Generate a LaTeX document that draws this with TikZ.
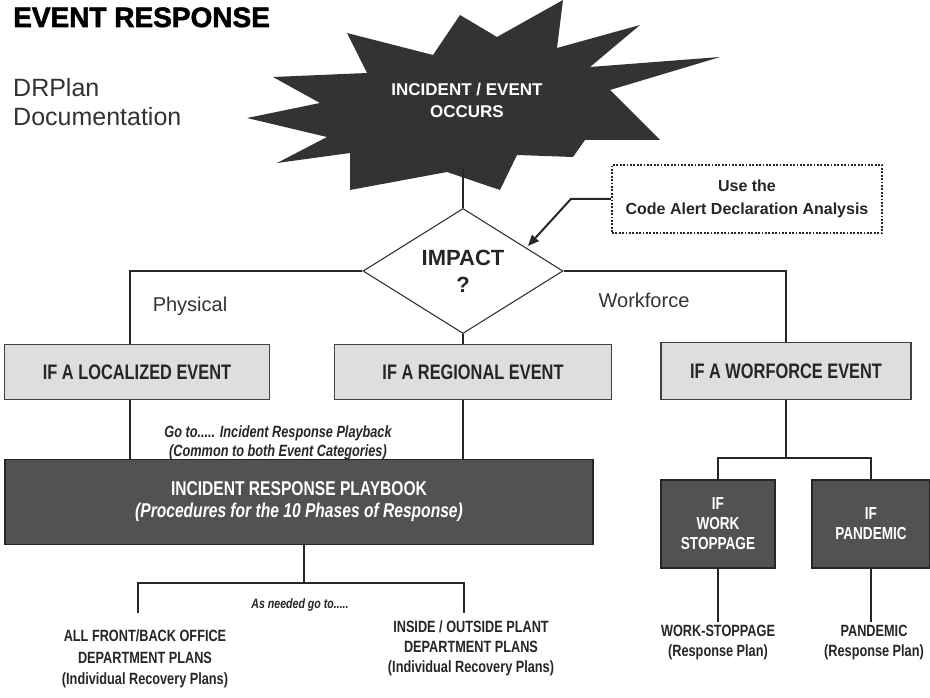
\documentclass[tikz,border=0pt]{standalone}
\usepackage{fontspec}
\setmainfont{Liberation Sans}
\newfontfamily\narrowfont[FakeStretch=0.78]{Liberation Sans}
\newfontfamily\heavyfont[FakeBold=2]{Liberation Sans Bold}
\usetikzlibrary{shapes.geometric,arrows.meta,calc}
\tikzset{
  link/.style={line width=2.2pt, draw=black!85},
  lightbox/.style={draw=black!75, fill=black!13, line width=1.6pt, inner sep=0pt,
    font=\narrowfont\bfseries\fontsize{21}{24}\selectfont, text=black!85},
  darkbox/.style={draw=black!85, fill=black!68, line width=1.6pt, inner sep=0pt,
    text=white, align=center},
  plaintext/.style={align=center, text=black!85, inner sep=2pt},
  branchlabel/.style={font=\fontsize{20}{24}\selectfont, text=black!80},
}
\begin{document}
\begin{tikzpicture}[x=1pt,y=-1pt]
\useasboundingbox[fill=white] (0,0) rectangle (930,698);

% titles
\node[anchor=base west, inner sep=0pt, font=\heavyfont\fontsize{28}{30}\selectfont] (title) at (13,27) {EVENT RESPONSE};
\node[anchor=base west, inner sep=0pt, font=\fontsize{25}{28}\selectfont, text=black!80] (drplan) at (13,97) {DRPlan};
\node[anchor=base west, inner sep=0pt, font=\fontsize{25}{28}\selectfont, text=black!80] (docu) at (13,126) {Documentation};

% starburst
\fill[black!80] (563,0) -- (557,48) -- (640,25) -- (590,67) -- (720,57) -- (610,90)
  -- (660,140) -- (585,140) -- (573,157) -- (517,155) -- (500,190) -- (447,172)
  -- (350,190) -- (350,153) -- (277,163) -- (327,137) -- (247,118) -- (320,103)
  -- (273,77) -- (367,73) -- (347,33) -- (433,55) -- (460,15) -- (497,37) -- cycle;
\node[align=center, text=white, font=\bfseries\fontsize{17}{22}\selectfont] (star) at (467,100) {INCIDENT / EVENT\\OCCURS};
\coordinate (starbot) at (463,168);

% impact diamond
\node[diamond, draw=black!80, line width=1.1pt, minimum width=200pt, minimum height=98pt, inner sep=0pt,
  align=center, text=black!85, font=\bfseries\fontsize{22}{27}\selectfont] (impact) at (463,271) {IMPACT\\?};

% dotted note
\node[draw=black!85, line width=2.2pt, dash pattern={on 1.8pt off 1.6pt}, minimum width=270pt, minimum height=68pt,
  align=center, text=black!85, font=\bfseries\fontsize{16}{23}\selectfont] (note) at (747,199)
  {Use the\\Code Alert Declaration Analysis};
\coordinate (atip) at (528,246);
\draw[link, line width=2pt, -{Triangle[length=11pt,width=9pt]}] (note.west) -- ++(-40,0) -- (atip);

% branch labels
\node[branchlabel] (phys) at (190,306) {Physical};
\node[branchlabel] (work) at (644,300) {Workforce};

% event boxes
\node[lightbox, minimum width=265pt, minimum height=55pt] (loc) at (137,372) {IF A LOCALIZED EVENT};
\node[lightbox, minimum width=277pt, minimum height=55pt] (reg) at (473,372) {IF A REGIONAL EVENT};
\node[lightbox, minimum width=250pt, minimum height=57pt] (wf) at (786,371) {IF A WORFORCE EVENT};

\node[plaintext, font=\narrowfont\bfseries\itshape\fontsize{16.3}{19}\selectfont] (goto) at (278,443)
  {Go to..... Incident Response Playback\\(Common to both Event Categories)};

% playbook
\node[darkbox, minimum width=588pt, minimum height=85pt, font=\narrowfont\bfseries\fontsize{20}{22}\selectfont] (play) at (299,502)
  {INCIDENT RESPONSE PLAYBOOK\\\textit{(Procedures for the 10 Phases of Response)}};

% workforce sub boxes
\node[darkbox, minimum width=114pt, minimum height=88pt, font=\narrowfont\bfseries\fontsize{17.4}{20}\selectfont] (ws) at (718,524) {IF\\WORK\\STOPPAGE};
\node[darkbox, minimum width=118pt, minimum height=88pt, font=\narrowfont\bfseries\fontsize{17.4}{20}\selectfont] (pd) at (871,524) {IF\\PANDEMIC};

\node[plaintext, font=\narrowfont\bfseries\fontsize{16.3}{20}\selectfont] (wstxt) at (718,642) {WORK-STOPPAGE\\(Response Plan)};
\node[plaintext, font=\narrowfont\bfseries\fontsize{16.3}{20}\selectfont] (pdtxt) at (874,642) {PANDEMIC\\(Response Plan)};

% department plans
\node[plaintext, font=\narrowfont\bfseries\itshape\fontsize{13.6}{15}\selectfont] (asneeded) at (300,605) {As needed go to.....};
\node[plaintext, font=\narrowfont\bfseries\fontsize{16.3}{21.5}\selectfont] (front) at (145,659)
  {ALL FRONT/BACK OFFICE\\DEPARTMENT PLANS\\(Individual Recovery Plans)};
\node[plaintext, font=\narrowfont\bfseries\fontsize{16.3}{20}\selectfont] (inside) at (471,648)
  {INSIDE / OUTSIDE PLANT\\DEPARTMENT PLANS\\(Individual Recovery Plans)};

% connectors
\coordinate (c1) at (130,271);
\draw[link] (starbot) -- (impact.north);
\draw[link] (impact.west) -- (c1) -- (c1 |- loc.north);
\draw[link] (c1 |- loc.south) -- (c1 |- play.north);
\draw[link] (impact.south) -- (impact.south |- reg.north);
\draw[link] (impact.south |- reg.south) -- (impact.south |- play.north);
\draw[link] (impact.east) -| (wf.north);

\coordinate (wj) at (786,458);
\draw[link] (wf.south) -- (wj);
\draw[link] (ws.north) |- (wj) -| (pd.north);
\draw[link] (ws.south) -- (ws.south |- wstxt.north);
\draw[link] (pd.south) -- (pd.south |- pdtxt.north);

\coordinate (pj) at (304,583);
\coordinate (bl) at (138,583);
\coordinate (br) at (464,583);
\coordinate (blend) at (138,613);
\coordinate (brend) at (464,613);
\draw[link] (play.south -| pj) -- (pj);
\draw[link] (blend) -- (bl) -- (br) -- (brend);
\end{tikzpicture}
\end{document}
